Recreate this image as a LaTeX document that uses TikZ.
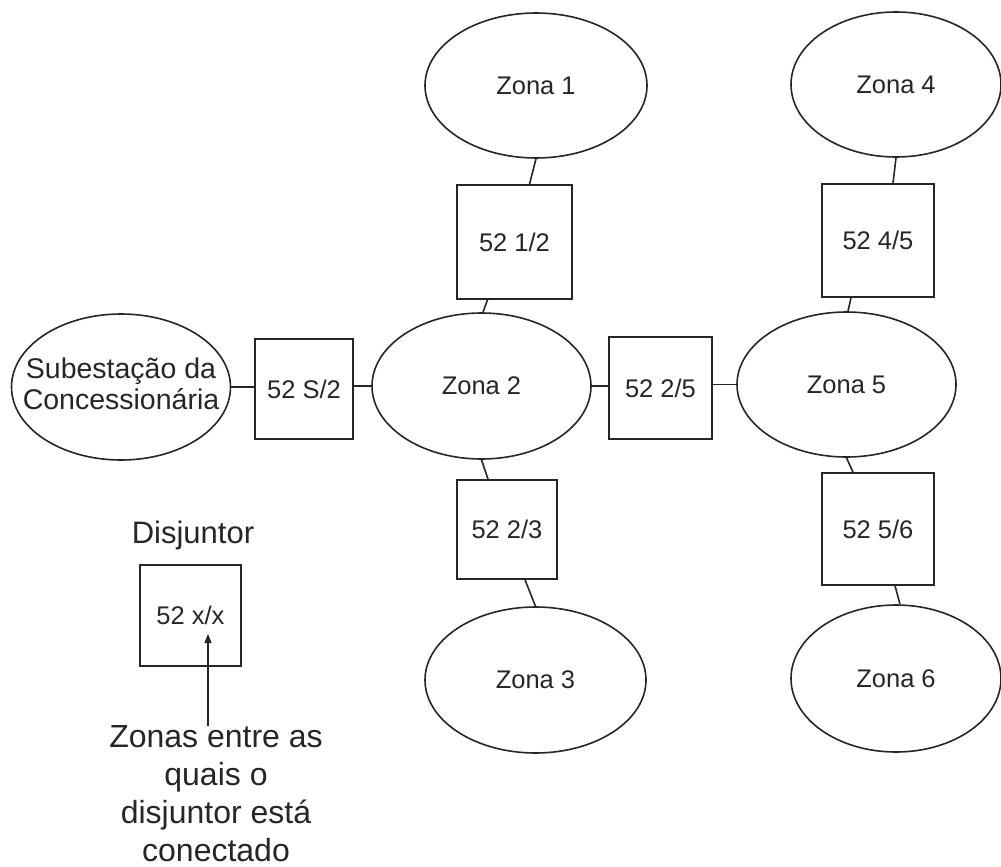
\documentclass[tikz,border=0pt]{standalone}
\usepackage{fontspec}
\setmainfont{Liberation Sans}
\usetikzlibrary{shapes.geometric,arrows.meta,calc}
\definecolor{ink}{HTML}{262626}
\begin{document}
\begin{tikzpicture}[x=1pt,y=-1pt,
  zone/.style={ellipse,draw=ink,line width=1.6pt,inner sep=0pt,text=ink,
    font=\fontsize{25.5}{30}\selectfont},
  brk/.style={rectangle,draw=ink,line width=1.6pt,inner sep=0pt,text=ink,
    font=\fontsize{25.5}{30}\selectfont},
  wire/.style={draw=ink,line width=1.6pt},
  note/.style={inner sep=0pt,text=ink,align=center}]
\useasboundingbox (0,0) rectangle (1001,867);

% zones
\node[zone,minimum width=222pt,minimum height=145pt] (z1) at (536,85.5) {Zona 1};
\node[zone,minimum width=210pt,minimum height=145pt] (z4) at (896,84.5) {Zona 4};
\node[zone,minimum width=219pt,minimum height=146pt] (sub) at (121,387) {};
\node[note,font=\fontsize{28.5}{31}\selectfont] (subt) at (121,384) {Subesta\c{c}\~ao da\\Concession\'aria};
\node[zone,minimum width=219pt,minimum height=146pt] (z2) at (481.5,386) {Zona 2};
\node[zone,minimum width=219pt,minimum height=145pt] (z5) at (846.5,384.5) {Zona 5};
\node[zone,minimum width=221pt,minimum height=146pt] (z3) at (535.5,680) {Zona 3};
\node[zone,minimum width=210pt,minimum height=147pt] (z6) at (896,678.5) {Zona 6};

% breakers
\node[brk,minimum width=115pt,minimum height=114pt] (b12) at (514.5,242) {52 1/2};
\node[brk,minimum width=112pt,minimum height=113pt] (b45) at (878,240.5) {52 4/5};
\node[brk,minimum width=98pt,minimum height=100pt] (bS2) at (304,389) {52 S/2};
\node[brk,minimum width=103pt,minimum height=102pt] (b25) at (660.5,388) {52 2/5};
\node[brk,minimum width=100pt,minimum height=99pt] (b23) at (507,529.5) {52 2/3};
\node[brk,minimum width=112pt,minimum height=112pt] (b56) at (878,529) {52 5/6};

% connectors
\draw[wire] (z1.south) -- ([xshift=15pt]b12.north);
\draw[wire] ([xshift=-27pt]b12.south) -- ([xshift=1.5pt]z2.north);
\draw[wire] (z4.south) -- ([xshift=15pt]b45.north);
\draw[wire] ([xshift=-27pt]b45.south) -- ([xshift=1.5pt]z5.north);
\draw[wire] (sub.east) -- (sub.east -| bS2.west);
\draw[wire] (z2.west -| bS2.east) -- (z2.west);
\draw[wire] (z2.east) -- (z2.east -| b25.west);
\draw[wire] (z5.west -| b25.east) -- (z5.west);
\draw[wire] (z2.south) -- ([xshift=-19pt]b23.north);
\draw[wire] ([xshift=18pt]b23.south) -- (z3.north);
\draw[wire] (z5.south) -- ([xshift=-25pt]b56.north);
\draw[wire] ([xshift=17pt]b56.south) -- ([xshift=4pt]z6.north);

% legend
\node[note,font=\fontsize{31}{36}\selectfont,anchor=base] (dj) at (193,543) {Disjuntor};
\node[brk,minimum width=101pt,minimum height=101pt] (bx) at (190.5,615.5) {52 x/x};
\node[note,font=\fontsize{32}{38}\selectfont,anchor=north] (expl) at (216,725)
  {Zonas entre as\\quais o\\disjuntor est\'a\\conectado};
\coordinate (arS) at (208,726);
\coordinate (arE) at (208,634);
\draw[wire,line width=1.3pt,-{Triangle[length=9pt,width=7pt]}] (arS) -- (arE);
\end{tikzpicture}
\end{document}
